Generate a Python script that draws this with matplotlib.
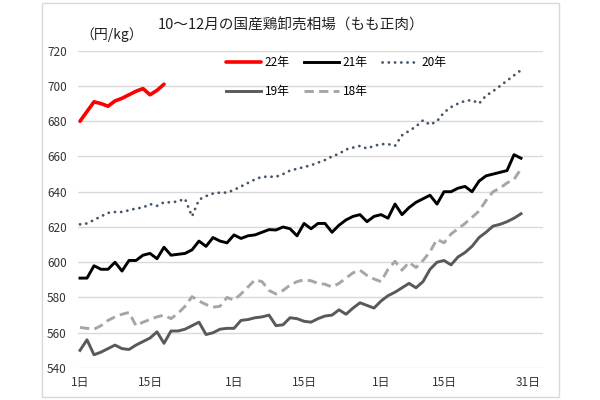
import matplotlib
matplotlib.use("Agg")
import matplotlib.pyplot as plt
from matplotlib.patches import Rectangle
from matplotlib.lines import Line2D

plt.rcParams['font.family'] = ['Noto Sans CJK JP', 'DejaVu Sans']

title = "10～12月の国産鶏卸売相場（もも正肉）"
unit_label = "（円/kg）"
tick_pos = [0, 10, 22, 32, 43, 52, 64]
tick_labels = ["1日", "15日", "1日", "15日", "1日", "15日", "31日"]
y_ticks = [540, 560, 580, 600, 620, 640, 660, 680, 700, 720]

labels = ["22年", "21年", "20年", "19年", "18年"]

y22 = [680, 685.5, 691, 690, 688.5, 691.5, 693, 695, 697, 698.5, 695, 697.5, 701]

y21 = [591, 591, 598, 596, 596, 600, 595, 601, 601, 604, 605, 602, 608.5, 604, 604.5, 605,
       607, 612, 609, 614, 612, 611, 615.5, 613.5, 615, 615.5, 617, 618.5, 618.3, 620, 619, 615,
       622, 619, 622, 622, 617, 621, 624, 626, 627, 623, 626, 627, 625, 633, 627, 631,
       634, 636, 638, 633, 640, 640, 642, 643, 640, 646, 649, 650, 651, 652, 661, 659]

y20 = [621.5, 622, 624, 626, 628, 628.5, 628.5, 629.5, 630.5, 631, 633, 632, 634, 634, 634.5, 636,
       626, 635.5, 637.5, 639, 639.5, 639.5, 641, 643, 645, 647, 648.5, 648.5, 648.5, 650, 652, 653,
       654, 655, 656.5, 658, 660, 661.5, 664, 665, 666, 664.5, 666, 667, 667, 666, 672, 674.5,
       677, 680.5, 678, 680, 685, 688, 690, 691.5, 692, 690, 694.5, 697, 700, 703, 706, 709]

y19 = [550, 556, 547.5, 549, 551, 553, 551, 550.5, 553, 555, 557, 560.5, 554, 561, 561, 562,
       564, 566, 559, 560, 562, 562.5, 562.5, 567, 567.5, 568.5, 569, 570, 564, 564.5, 568.5, 568,
       566.5, 566, 568, 569.5, 570, 573, 570.5, 574, 577, 575.5, 574, 578, 581, 583, 585.5, 588,
       585.5, 589, 596, 600, 601, 598.5, 603, 605.5, 609, 614, 617, 620.5, 621.5, 623, 625, 627.5]

y18 = [563, 562.5, 562, 564, 567, 569, 570.5, 571.5, 564, 566, 567.5, 569, 570, 568, 571, 575,
       580.5, 578, 576, 574.5, 575, 580, 578.5, 582, 586, 590, 589, 584, 582, 584, 587, 589,
       590, 589.5, 588, 587.5, 586, 588, 591, 594, 595.5, 592.5, 590.5, 589, 596, 600.5, 595.5, 600,
       597, 601, 606, 613, 611, 616, 619, 622, 625.5, 629, 635, 640, 642, 645, 647, 653]

fig = plt.figure(figsize=(6, 4), dpi=100)
fig.patch.set_facecolor("white")
fig.patches.append(Rectangle((42 / 600, 3 / 400), (559 - 42) / 600, (397 - 3) / 400,
                             transform=fig.transFigure, fill=False,
                             edgecolor="#D9D9D9", linewidth=1.0))

ax = fig.add_axes([78 / 600, 1 - 368 / 400, (543 - 78) / 600, (368 - 50.7) / 400])

h22, = ax.plot(range(len(y22)), y22, color="#FF0000", lw=2.6, solid_capstyle="round",
               solid_joinstyle="round", label="22年", zorder=6)
h21, = ax.plot(range(len(y21)), y21, color="#000000", lw=2.1, solid_joinstyle="round",
               label="21年", zorder=5)
h20, = ax.plot(range(len(y20)), y20, color="#44546A", lw=2.0, linestyle=(0, (0.05, 2.2)),
               dash_capstyle="round", label="20年", zorder=4)
h19, = ax.plot(range(len(y19)), y19, color="#595959", lw=2.1, solid_joinstyle="round",
               label="19年", zorder=3)
h18, = ax.plot(range(len(y18)), y18, color="#A6A6A6", lw=2.1, linestyle=(0, (3.2, 1.8)),
               label="18年", zorder=2)

ax.set_xlim(-0.286, 66.14)
ax.set_ylim(540, 720)
ax.set_yticks(y_ticks)
ax.set_xticks(tick_pos)
ax.set_xticklabels(tick_labels)
ax.tick_params(axis="both", length=0, labelsize=8.5, colors="#333333")
ax.tick_params(axis="x", pad=6)
ax.tick_params(axis="y", pad=8)
ax.grid(axis="y", color="#D9D9D9", linewidth=1.0)
ax.set_axisbelow(True)
for s in ax.spines.values():
    s.set_visible(False)

leg = ax.legend([h22, h19, h21, h18, h20], ["22年", "19年", "21年", "18年", "20年"],
                ncol=3, loc="center", bbox_to_anchor=((336 - 78) / 465, 1 - (77 - 50.7) / 317.3),
                frameon=False, fontsize=8.5, handlelength=3.0, handletextpad=0.3,
                columnspacing=1.2, labelspacing=1.4)

fig.text(158 / 600, 1 - 25 / 400, title, fontsize=10.5, ha="left", va="center", color="#222222")
fig.text(80 / 600, 1 - 35 / 400, unit_label, fontsize=10, ha="left", va="center", color="#222222")

fig.savefig("out.png", dpi=100)
